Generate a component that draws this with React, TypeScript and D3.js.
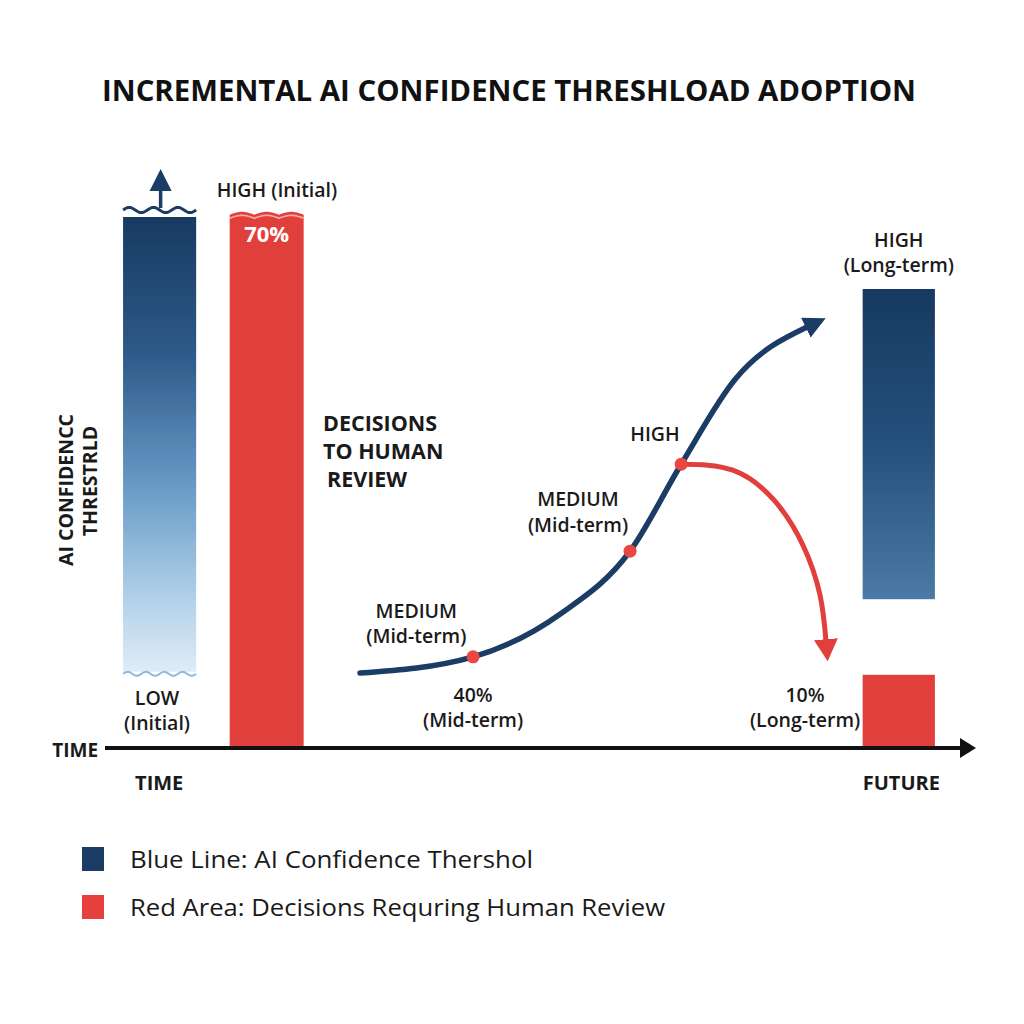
import { useEffect, useRef } from 'react';
import * as d3 from 'd3';

// time runs 0 (now) .. 100 (future), level is 0 .. 100
const TITLE = 'INCREMENTAL AI CONFIDENCE THRESHLOAD ADOPTION';
const yAxisLabel = ['AI CONFIDENCC', 'THRESTRLD'];
const legendItems = [
  { label: 'Blue Line: AI Confidence Thershol', kind: 'blue', width: 403 },
  { label: 'Red Area: Decisions Requring Human Review', kind: 'red', width: 535 },
];

// bars: [tStart, tEnd, levelLow, levelHigh]
const initialConfidenceBar = [2.1, 10.6, 12.7, 88.5];
const initialReviewBar = [14.5, 23.1, 0, 89.2];
const longTermConfidenceBar = [88.1, 96.5, 24.8, 76.5];
const longTermReviewBar = [88.1, 96.5, 0, 12.2];

const confidenceCurve: [number, number][] = [
  [29.65, 12.5], [42.8, 15.2], [52.9, 22.3], [61.05, 32.8],
  [67.0, 47.3], [73.3, 61.5], [81.7, 70.2],
];
const reviewCurve: [number, number][] = [
  [67.0, 47.3], [73.0, 46.3], [77.8, 41.3], [81.16, 33.8], [83.14, 25.5], [83.84, 17.8],
];
const milestones: [number, number][] = [[42.8, 15.2], [61.05, 32.8], [67.0, 47.3]];

// annotation anchors in data units (t, level of first baseline)
const annotations = [
  { lines: ['HIGH (Initial)'], t: 20.0, level: 91.8, anchor: 'middle', size: 19.5, color: '#1a1a1a', weight: 600 },
  { lines: ['70%'], t: 18.8, level: 84.3, anchor: 'middle', size: 22, color: '#ffffff', weight: 700 },
  { lines: ['LOW', '(Initial)'], t: 6.05, level: 7.2, anchor: 'middle', size: 19.5, color: '#1a1a1a', weight: 600 },
  { lines: ['DECISIONS', 'TO HUMAN', 'REVIEW'], t: 25.35, level: 52.8, anchor: 'start', size: 21.5, color: '#1a1a1a', weight: 700 },
  { lines: ['MEDIUM', '(Mid-term)'], t: 36.2, level: 21.7, anchor: 'middle', size: 19.5, color: '#1a1a1a', weight: 600 },
  { lines: ['40%', '(Mid-term)'], t: 42.8, level: 7.7, anchor: 'middle', size: 19.5, color: '#1a1a1a', weight: 600 },
  { lines: ['MEDIUM', '(Mid-term)'], t: 55.0, level: 40.3, anchor: 'middle', size: 19.5, color: '#1a1a1a', weight: 600 },
  { lines: ['HIGH'], t: 63.95, level: 51.2, anchor: 'middle', size: 19.5, color: '#1a1a1a', weight: 600 },
  { lines: ['HIGH', '(Long-term)'], t: 92.3, level: 83.5, anchor: 'middle', size: 19.5, color: '#1a1a1a', weight: 600 },
  { lines: ['10%', '(Long-term)'], t: 81.4, level: 7.7, anchor: 'middle', size: 19.5, color: '#1a1a1a', weight: 600 },
  { lines: ['TIME'], t: 6.3, level: -7, anchor: 'middle', size: 20, color: '#1a1a1a', weight: 700 },
  { lines: ['FUTURE'], t: 92.6, level: -7, anchor: 'middle', size: 20, color: '#1a1a1a', weight: 700 },
  { lines: ['TIME'], t: -0.8, level: -1.5, anchor: 'end', size: 19, color: '#1a1a1a', weight: 700 },
];

const BLUE = '#1b3c64';
const RED = '#e13f3c';
const FONT = "'Open Sans', 'DejaVu Sans', sans-serif";

export default function App() {
  const svgRef = useRef<SVGSVGElement>(null);

  useEffect(() => {
    if (!svgRef.current) return;
    document.body.style.margin = '0';
    const svg = d3.select(svgRef.current);
    svg.selectAll('*').remove();

    const x = d3.scaleLinear().domain([0, 100]).range([105, 965]);
    const y = d3.scaleLinear().domain([0, 100]).range([748, 148]);

    const defs = svg.append('defs');
    const g1 = defs.append('linearGradient').attr('id', 'confInit').attr('x1', 0).attr('x2', 0).attr('y1', 0).attr('y2', 1);
    [[0, '#173a61'], [0.3, '#2d5a88'], [0.6, '#6a9cc8'], [0.85, '#b5d3ea'], [1, '#deecf7']].forEach(([o, c]) =>
      g1.append('stop').attr('offset', o as number).attr('stop-color', c as string));
    const g2 = defs.append('linearGradient').attr('id', 'confLong').attr('x1', 0).attr('x2', 0).attr('y1', 0).attr('y2', 1);
    [[0, '#163a60'], [0.5, '#24507c'], [1, '#4a7aa5']].forEach(([o, c]) =>
      g2.append('stop').attr('offset', o as number).attr('stop-color', c as string));

    const marker = (id: string, color: string, len: number, half: number) => {
      defs.append('marker')
        .attr('id', id)
        .attr('markerUnits', 'userSpaceOnUse')
        .attr('viewBox', `0 ${-half} ${len} ${half * 2}`)
        .attr('markerWidth', len)
        .attr('markerHeight', half * 2)
        .attr('refX', 2)
        .attr('refY', 0)
        .attr('orient', 'auto')
        .append('path')
        .attr('d', `M0,${-half}L${len},0L0,${half}Z`)
        .attr('fill', color);
    };
    marker('arrowBlue', BLUE, 22, 11);
    marker('arrowRed', RED, 22, 12);

    svg.append('rect').attr('width', 1024).attr('height', 1024).attr('fill', '#ffffff');

    // title
    svg.append('text')
      .attr('x', 509).attr('y', 101)
      .attr('text-anchor', 'middle')
      .attr('font-family', FONT).attr('font-weight', 700).attr('font-size', 29)
      .attr('textLength', 814).attr('lengthAdjust', 'spacingAndGlyphs')
      .attr('fill', '#111')
      .text(TITLE);

    // y axis label (rotated)
    yAxisLabel.forEach((s, i) => {
      svg.append('text')
        .attr('transform', `translate(${i === 0 ? 73 : 97},${i === 0 ? 490 : 481}) rotate(-90)`)
        .attr('text-anchor', 'middle')
        .attr('font-family', FONT).attr('font-weight', 700).attr('font-size', 19.5)
        .attr('fill', '#1a1a1a')
        .text(s);
    });

    const wave = (x0: number, x1: number, yy: number, amp: number, periods: number) => {
      const pts = d3.range(0, 61).map(i => {
        const f = i / 60;
        return [x0 + (x1 - x0) * f, yy - amp * Math.sin(f * periods * Math.PI * 2)] as [number, number];
      });
      return d3.line()(pts) as string;
    };

    // initial confidence bar
    const [a0, a1, alo, ahi] = initialConfidenceBar;
    svg.append('rect')
      .attr('x', x(a0)).attr('y', y(ahi))
      .attr('width', x(a1) - x(a0)).attr('height', y(alo) - y(ahi))
      .attr('fill', 'url(#confInit)');
    svg.append('path').attr('d', wave(x(a0), x(a1), y(ahi) - 7, 2.6, 3))
      .attr('fill', 'none').attr('stroke', BLUE).attr('stroke-width', 3);
    svg.append('path').attr('d', wave(x(a0), x(a1), y(alo) + 2, 2, 4))
      .attr('fill', 'none').attr('stroke', '#8fbbe0').attr('stroke-width', 2);
    const ax = (x(a0) + x(a1)) / 2 + 1;
    svg.append('line').attr('x1', ax).attr('x2', ax).attr('y1', y(ahi) - 9).attr('y2', y(ahi) - 28)
      .attr('stroke', BLUE).attr('stroke-width', 3.5);
    svg.append('path')
      .attr('d', `M${ax - 11},${y(ahi) - 26}L${ax},${y(ahi) - 48}L${ax + 11},${y(ahi) - 26}Z`)
      .attr('fill', BLUE);

    // initial review bar with scalloped top
    const [b0, b1, blo, bhi] = initialReviewBar;
    const topY = y(bhi);
    const bw = x(b1) - x(b0);
    const scallop = d3.range(0, 61).map(i => {
      const f = i / 60;
      return [x(b0) + bw * f, topY + 2 - 3 * Math.abs(Math.sin(f * 3 * Math.PI))] as [number, number];
    });
    const areaTop = d3.area<[number, number]>().x(d => d[0]).y0(y(blo)).y1(d => d[1]);
    svg.append('path').attr('d', areaTop(scallop) as string).attr('fill', RED);
    svg.append('path')
      .attr('d', d3.line()(scallop.map(([px, py]) => [px, py + 3.5] as [number, number])) as string)
      .attr('fill', 'none').attr('stroke', '#f6a9a5').attr('stroke-width', 1.6);

    // long-term bars
    const [c0, c1, clo, chi] = longTermConfidenceBar;
    svg.append('rect')
      .attr('x', x(c0)).attr('y', y(chi))
      .attr('width', x(c1) - x(c0)).attr('height', y(clo) - y(chi))
      .attr('fill', 'url(#confLong)');
    const [d0, d1, dlo, dhi] = longTermReviewBar;
    svg.append('rect')
      .attr('x', x(d0)).attr('y', y(dhi))
      .attr('width', x(d1) - x(d0)).attr('height', y(dlo) - y(dhi))
      .attr('fill', RED);

    // time axis
    defs.append('marker')
      .attr('id', 'axisArrow').attr('markerUnits', 'userSpaceOnUse')
      .attr('viewBox', '0 -10 16 20').attr('markerWidth', 16).attr('markerHeight', 20)
      .attr('refX', 1).attr('refY', 0).attr('orient', 'auto')
      .append('path').attr('d', 'M0,-10L16,0L0,10Z').attr('fill', '#111');
    svg.append('line')
      .attr('x1', x(0)).attr('x2', x(100) - 4)
      .attr('y1', y(0)).attr('y2', y(0))
      .attr('stroke', '#111').attr('stroke-width', 4)
      .attr('marker-end', 'url(#axisArrow)');

    // curves
    const blueLine = d3.line<[number, number]>()
      .x(d => x(d[0])).y(d => y(d[1]))
      .curve(d3.curveMonotoneX);
    const redLine = d3.line<[number, number]>()
      .x(d => x(d[0])).y(d => y(d[1]))
      .curve(d3.curveNatural);
    svg.append('path').attr('d', redLine(reviewCurve) as string)
      .attr('fill', 'none').attr('stroke', RED).attr('stroke-width', 5)
      .attr('marker-end', 'url(#arrowRed)');
    svg.append('path').attr('d', blueLine(confidenceCurve) as string)
      .attr('fill', 'none').attr('stroke', BLUE).attr('stroke-width', 5.5)
      .attr('stroke-linecap', 'round')
      .attr('marker-end', 'url(#arrowBlue)');

    svg.selectAll('circle.milestone')
      .data(milestones)
      .enter()
      .append('circle')
      .attr('class', 'milestone')
      .attr('cx', d => x(d[0])).attr('cy', d => y(d[1]))
      .attr('r', 6.5)
      .attr('fill', '#e8483f');

    // annotations
    annotations.forEach(a => {
      const t = svg.append('text')
        .attr('x', x(a.t)).attr('y', y(a.level))
        .attr('text-anchor', a.anchor)
        .attr('font-family', FONT).attr('font-weight', a.weight).attr('font-size', a.size)
        .attr('fill', a.color);
      a.lines.forEach((s, i) => {
        t.append('tspan')
          .attr('x', x(a.t) + (s === 'REVIEW' ? 4 : 0))
          .attr('dy', i === 0 ? 0 : a.size * 1.3)
          .text(s);
      });
    });

    // legend
    const legend = svg.append('g').attr('transform', 'translate(82,847)');
    legendItems.forEach((item, i) => {
      const row = legend.append('g').attr('transform', `translate(0,${i * 48})`);
      row.append('rect').attr('width', 22).attr('height', 24)
        .attr('fill', item.kind === 'blue' ? BLUE : '#e5403d');
      row.append('text')
        .attr('x', 48).attr('y', 21)
        .attr('font-family', FONT).attr('font-size', 24.5)
        .attr('textLength', item.width).attr('lengthAdjust', 'spacingAndGlyphs')
        .attr('fill', '#1a1a1a')
        .text(item.label);
    });
  }, []);

  return <svg ref={svgRef} width={1024} height={1024} style={{ display: 'block' }} />;
}
